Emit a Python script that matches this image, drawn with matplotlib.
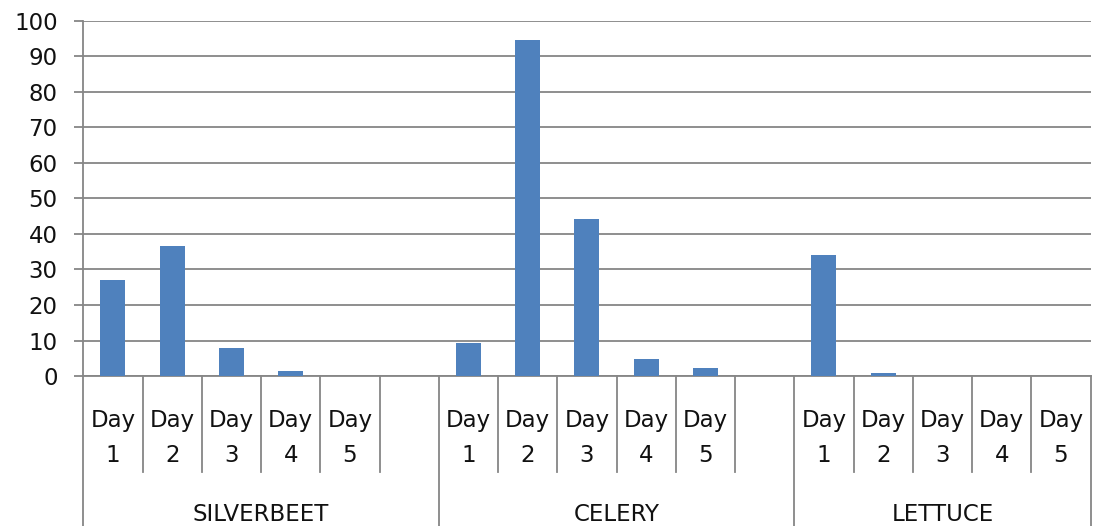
import matplotlib
matplotlib.use("Agg")
import matplotlib.pyplot as plt

# data
groups = ["SILVERBEET", "CELERY", "LETTUCE"]
day_names = ["Day", "Day", "Day", "Day", "Day"]
day_numbers = ["1", "2", "3", "4", "5"]
silverbeet = [27, 36.5, 8, 1.5, 0]
celery = [9.2, 94.4, 44.2, 4.7, 2.2]
lettuce = [34, 0.9, 0, 0, 0]
y_ticks = [0, 10, 20, 30, 40, 50, 60, 70, 80, 90, 100]

series = [silverbeet, celery, lettuce]
# each group gets its 5 days, plus an empty slot after the first two groups
slots = [len(v) + 1 for v in series[:-1]] + [len(series[-1])]

bar_color = "#4F81BD"
line_color = "#868686"

fig = plt.figure(figsize=(10.96, 5.26), dpi=100)
ax = fig.add_axes([0.076, 0.285, 0.919, 0.676])

starts = []
pos = 0
for s in slots:
    starts.append(pos)
    pos += s
n_slots = pos

for start, vals in zip(starts, series):
    xs = list(range(start, start + len(vals)))
    ax.bar(xs, vals, width=0.42, color=bar_color, edgecolor="none", zorder=3)

ax.set_xlim(-0.5, n_slots - 0.5)
ax.set_ylim(0, 100)
ax.set_yticks(y_ticks)
ax.set_xticks([])

ax.yaxis.grid(True, color=line_color, lw=1.3)
ax.set_axisbelow(True)
for side in ["top", "right"]:
    ax.spines[side].set_visible(False)
for side in ["left", "bottom"]:
    ax.spines[side].set_color(line_color)
    ax.spines[side].set_linewidth(1.3)

ax.tick_params(axis="y", direction="out", length=6.5, width=1.3,
               color=line_color, labelsize=16.5, pad=12, labelcolor="#111111")

trans = ax.get_xaxis_transform()

# category separators below the axis
group_edges = set([s - 0.5 for s in starts] + [n_slots - 0.5])
for i in range(n_slots + 1):
    b = i - 0.5
    y_end = -0.43 if b in group_edges else -0.27
    ax.plot([b, b], [0, y_end], color=line_color, lw=1.3,
            transform=trans, clip_on=False)

# day labels and group labels
for gi, (start, vals) in enumerate(zip(starts, series)):
    for di in range(len(vals)):
        x = start + di
        ax.text(x, -0.124, day_names[di], transform=trans, ha="center",
                va="center", fontsize=16.5, color="#111111")
        ax.text(x, -0.222, day_numbers[di], transform=trans, ha="center",
                va="center", fontsize=16.5, color="#111111")
    center = start + (slots[gi] - 1) / 2
    ax.text(center, -0.39, groups[gi], transform=trans, ha="center",
            va="center", fontsize=16.5, color="#111111")

fig.savefig("out.png", dpi=100)
